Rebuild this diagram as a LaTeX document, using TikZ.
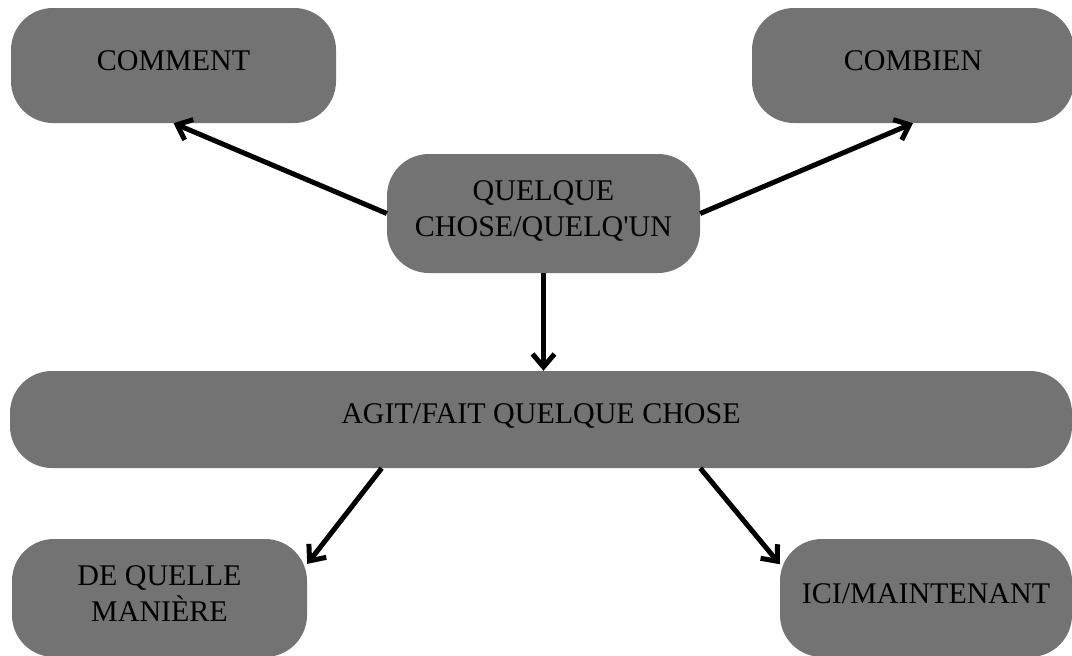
\documentclass[tikz,border=0pt]{standalone}
\usepackage{fontspec}
\setmainfont{Liberation Serif}
\usepackage{xcolor}
\usepackage{tikz}
\usetikzlibrary{positioning, arrows.meta}
\definecolor{boxgray}{RGB}{115,115,115}
\begin{document}
\begin{tikzpicture}[x=1pt,y=-1pt]
						\tikzstyle{box}=[rectangle,rounded corners=42pt,fill=boxgray,inner sep=0pt,text depth=9pt,align=center,font=\fontsize{30}{36}\selectfont]
						\tikzstyle{arr}=[line width=5pt,-{Straight Barb[length=13pt,width=22pt]}]
						\useasboundingbox (0,0) rectangle (1072,656);
						\clip (0,0) rectangle (1072,656);
						\node[box,minimum width=325pt,minimum height=115pt](comment) at (173.5,65.5) {COMMENT};
						\node[box,minimum width=322pt,minimum height=115pt](combien) at (913,65.5) {COMBIEN};
						\node[box,minimum width=313pt,minimum height=119pt](qc) at (543.5,213.5) {QUELQUE\\CHOSE/QUELQ\textquotesingle UN};
						\node[box,minimum width=1062pt,minimum height=97pt,text depth=12pt](agit) at (541,419.5) {AGIT/FAIT QUELQUE CHOSE};
						\node[box,minimum width=295pt,minimum height=118pt](maniere) at (159.5,598) {DE QUELLE\\MANIÈRE};
						\node[box,minimum width=292pt,minimum height=118pt](ici) at (926,598) {ICI/MAINTENANT};
						\draw[arr](qc.west) -- (comment.south);
						\draw[arr](qc.east) -- (combien.south);
						\draw[arr](qc.south) -- (qc.south |- agit.north);
						\draw[arr](agit.197) -- (maniere.13);
						\draw[arr](agit.343) -- (ici.167);
					\end{tikzpicture}
\end{document}
